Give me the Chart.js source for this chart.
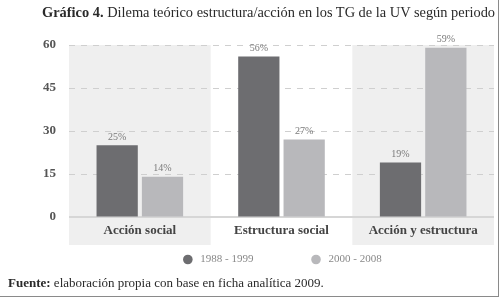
<!DOCTYPE html>
<html>
<head>
<meta charset="utf-8">
<script src="https://cdn.jsdelivr.net/npm/chart.js@4"></script>
<style>
    body { margin: 0; background: #fff; }
    #wrap { position: relative; width: 500px; height: 298px; overflow: hidden; }
    #frame { position: absolute; left: 0; top: 0; width: 498px; height: 296px;
        border-right: 1px solid #8a8a8a; border-bottom: 1px solid #8a8a8a; pointer-events: none; }
    #titulo { position: absolute; left: 42px; top: 4px; font: 14.4px "Liberation Serif", serif; color: #2a2a2a; white-space: nowrap; }
    #fuente { position: absolute; left: 8px; top: 275px; font: 13px "Liberation Serif", serif; color: #2a2a2a; white-space: nowrap; }
    canvas { position: absolute; left: 0; top: 0; }
</style>
</head>
<body>
<div id="wrap">
    <canvas id="BarChart" width="500" height="298"></canvas>
    <div id="titulo"><b>Gráfico 4.</b> Dilema teórico estructura/acción en los TG de la UV según periodo</div>
    <div id="fuente"><b>Fuente:</b> elaboración propia con base en ficha analítica 2009.</div>
    <div id="frame"></div>
</div>
<script>
const categories = ['Acción social', 'Estructura social', 'Acción y estructura'];
const periodos = ['1988 - 1999', '2000 - 2008'];
const values_1988 = [25, 56, 19];
const values_2000 = [14, 27, 59];
const y_ticks = [0, 15, 30, 45, 60];

// shaded bands behind first and third category + solid zero line
const bandsPlugin = {
    id: 'bands',
    beforeDraw(chart) {
        const ctx = chart.ctx;
        const x = chart.scales.x;
        const area = chart.chartArea;
        const step = (area.right - area.left) / categories.length;
        ctx.save();
        ctx.fillStyle = '#efefef';
        [0, 2].forEach(i => {
            const c = x.getPixelForValue(i);
            ctx.fillRect(c - step / 2, area.top, step, x.bottom - area.top);
        });
        ctx.restore();
    },
    beforeDatasetsDraw(chart) {
        const ctx = chart.ctx;
        const area = chart.chartArea;
        const y0 = chart.scales.y.getPixelForValue(0);
        ctx.save();
        ctx.strokeStyle = '#d6d6d6';
        ctx.lineWidth = 2;
        ctx.beginPath();
        ctx.moveTo(area.left, y0);
        ctx.lineTo(area.right, y0);
        ctx.stroke();
        ctx.restore();
    }
};

// percentage labels above bars
const valueLabels = {
    id: 'valueLabels',
    afterDatasetsDraw(chart) {
        const ctx = chart.ctx;
        ctx.save();
        ctx.font = '10px "Liberation Serif", serif';
        ctx.fillStyle = '#7a7a7a';
        ctx.textAlign = 'center';
        ctx.textBaseline = 'bottom';
        chart.data.datasets.forEach((ds, di) => {
            chart.getDatasetMeta(di).data.forEach((bar, i) => {
                ctx.fillText(ds.data[i] + '%', bar.x, bar.y - 3);
            });
        });
        ctx.restore();
    }
};

// legend with wide spacing between the two items
const legendPlugin = {
    id: 'wideLegend',
    afterDraw(chart) {
        const ctx = chart.ctx;
        const area = chart.chartArea;
        const gap = 58;
        ctx.save();
        ctx.font = '11px "Liberation Serif", serif';
        ctx.textBaseline = 'middle';
        const items = chart.data.datasets.map(ds => ({
            text: ds.label, color: ds.backgroundColor, w: 17 + ctx.measureText(ds.label).width
        }));
        const total = items.reduce((s, it) => s + it.w, 0) + gap * (items.length - 1);
        let x = (area.left + area.right) / 2 - total / 2 + 1;
        const y = 259.5;
        items.forEach(it => {
            ctx.fillStyle = it.color;
            ctx.beginPath();
            ctx.arc(x + 4.5, y, 4.8, 0, Math.PI * 2);
            ctx.fill();
            ctx.fillStyle = '#888';
            ctx.fillText(it.text, x + 17, y);
            x += it.w + gap;
        });
        ctx.restore();
    }
};

const bar_data = {
    labels: categories,
    datasets: [{
        label: periodos[0],
        data: values_1988,
        backgroundColor: '#6d6d70',
        barPercentage: 0.91,
        categoryPercentage: 0.64
    }, {
        label: periodos[1],
        data: values_2000,
        backgroundColor: '#b8b8bb',
        barPercentage: 0.91,
        categoryPercentage: 0.64
    }]
};

const configBar = {
    type: 'bar',
    data: bar_data,
    plugins: [bandsPlugin, valueLabels, legendPlugin],
    options: {
        responsive: false,
        animation: false,
        layout: {
            padding: { left: 0, right: 6, top: 45, bottom: 53 }
        },
        plugins: {
            legend: { display: false },
            tooltip: { enabled: false }
        },
        scales: {
            x: {
                grid: { display: false },
                border: { display: false },
                ticks: {
                    color: '#444',
                    padding: -2,
                    font: { family: '"Liberation Serif", serif', size: 13, weight: 'bold' }
                },
                afterFit(scale) { scale.height = 28; }
            },
            y: {
                min: 0,
                max: 60,
                afterBuildTicks(scale) { scale.ticks = y_ticks.map(v => ({ value: v })); },
                afterFit(scale) { scale.width = 69; },
                border: { display: false, dash: [6, 6] },
                grid: {
                    color: ctx => ctx.tick.value === 0 ? 'rgba(0,0,0,0)' : '#cfcfcf',
                    drawTicks: false
                },
                ticks: {
                    color: '#555',
                    padding: 13,
                    font: { family: '"Liberation Serif", serif', size: 13, weight: 'bold' }
                }
            }
        }
    }
};

const BarChart = new Chart(
    document.getElementById('BarChart'),
    configBar
);
</script>
</body>
</html>
